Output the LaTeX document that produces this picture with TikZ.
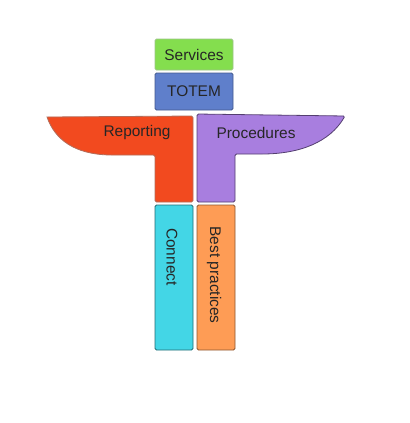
\documentclass[tikz,border=0pt]{standalone}
\usepackage{fontspec}
\setmainfont{Liberation Sans}
\usetikzlibrary{shadows}
\definecolor{cserv}{HTML}{84DE4E}
\definecolor{ctotem}{HTML}{5F7FCB}
\definecolor{crep}{HTML}{F24A1F}
\definecolor{cproc}{HTML}{A87EDF}
\definecolor{ccon}{HTML}{43D6E6}
\definecolor{cbest}{HTML}{FE9C55}
\tikzset{
  blk/.style={rounded corners=1.5bp, line width=0.8bp},
  lbl/.style={font=\fontsize{15.5}{18}\selectfont, text=black!85, inner sep=0pt},
}
\begin{document}
\begin{tikzpicture}[x=1bp,y=-1bp]
\useasboundingbox (0,0) rectangle (410,423);
% Services
\path[blk, fill=cserv, draw=cserv!70!black!60] (155,39) rectangle (233,70);
\node[lbl] (serv) at (194,54.5) {Services};
% TOTEM
\path[blk, fill=ctotem, draw=ctotem!70!black] (155,73) rectangle (233,110);
\node[lbl] (totem) at (194,91) {TOTEM};
% Reporting
\path[line width=0.8bp, fill=crep, draw=crep!60!black!70, rounded corners=1.5bp]
  (47,117) -- (193,116) -- (193,202) -- (155,202) -- (155,155) -- (110,155)
  [sharp corners] .. controls (75,154) and (55,140) .. (47,117) -- cycle;
\node[lbl] (rep) at (137,133) {Reporting};
% Procedures
\path[line width=0.8bp, fill=cproc, draw=cproc!50!black, rounded corners=1.5bp]
  (197,114) -- (345,116)
  [sharp corners] .. controls (330,142) and (300,154) .. (262,154)
  [rounded corners=1.5bp] -- (235,154) -- (235,202) -- (197,202) -- cycle;
\node[lbl] (proc) at (256,133) {Procedures};
% Connect
\path[blk, fill=ccon, draw=ccon!50!black] (155,205) rectangle (193,350);
\node[lbl, rotate=-90] (con) at (172,257) {Connect};
% Best practices
\path[blk, fill=cbest, draw=cbest!55!black] (197,205) rectangle (235,350);
\node[lbl, rotate=-90] (best) at (214,275) {Best practices};
\end{tikzpicture}
\end{document}
